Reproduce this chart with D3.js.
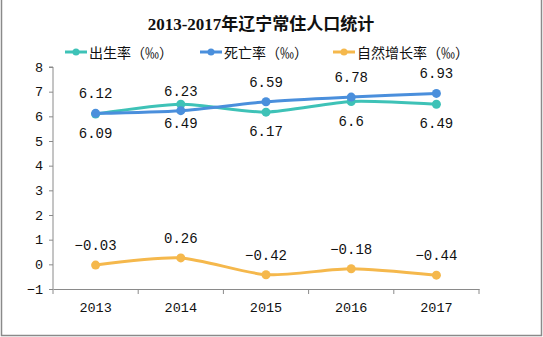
<!DOCTYPE html>
<html>
<head>
<meta charset="utf-8">
<script src="https://cdn.jsdelivr.net/npm/d3@7"></script>
<style>
  html, body { margin: 0; padding: 0; background: #fff; }
  svg { display: block; }
</style>
</head>
<body>
<svg id="chart" width="543" height="337"></svg>
<script>
// 2013-2017 Liaoning resident population: birth, death and natural growth rates (‰)
const years = ["2013", "2014", "2015", "2016", "2017"];
const birthRate = [6.09, 6.49, 6.17, 6.6, 6.49];
const deathRate = [6.12, 6.23, 6.59, 6.78, 6.93];
const naturalRate = [-0.03, 0.26, -0.42, -0.18, -0.44];
const yTicks = [-1, 0, 1, 2, 3, 4, 5, 6, 7, 8];
const seriesNames = ["出生率（‰）", "死亡率（‰）", "自然增长率（‰）"];
const colors = ["#3ec2b7", "#4a8fdc", "#f5b84c"];

const svg = d3.select("#chart");
const W = 543, H = 337;
const plotLeft = 53, plotRight = 479, plotTop = 67, plotBottom = 289;
const numFont = "'Liberation Mono', 'DejaVu Sans Mono', monospace";
const cjkFont = "'Noto Sans CJK SC', sans-serif";

// outer frame
svg.append("path")
  .attr("d", `M1.5,0 V${H - 1.5} H${W - 1.5} V0`)
  .attr("fill", "none").attr("stroke", "#8a8a8a").attr("stroke-width", 1.5);

const x = d3.scaleBand().domain(years).range([plotLeft, plotRight]);
const y = d3.scaleLinear().domain([-1, 8]).range([plotBottom, plotTop]);

// title
svg.append("text")
  .attr("x", 261).attr("y", 30)
  .attr("text-anchor", "middle")
  .attr("font-family", "'Liberation Serif', 'Noto Sans CJK SC', serif")
  .attr("font-weight", "bold").attr("font-size", 17).attr("fill", "#111")
  .text("2013-2017年辽宁常住人口统计");

// legend
const legendX = [65, 200, 333];
seriesNames.forEach((name, i) => {
  const g = svg.append("g").attr("transform", `translate(${legendX[i]},52)`);
  g.append("line").attr("x1", 0).attr("x2", 22).attr("y1", 0).attr("y2", 0)
    .attr("stroke", colors[i]).attr("stroke-width", 3);
  g.append("circle").attr("cx", 11).attr("cy", 0).attr("r", 3.5).attr("fill", colors[i]);
  g.append("text").attr("x", 24).attr("y", 5.5)
    .attr("font-family", cjkFont).attr("font-size", 14).attr("fill", "#111")
    .text(name);
});

// axes
const axisColor = "#8a8a8a";
const yAxis = svg.append("g").attr("transform", `translate(${plotLeft},0)`)
  .call(d3.axisLeft(y).tickValues(yTicks).tickSize(4).tickPadding(6).tickFormat(d3.format("d")));
const xAxis = svg.append("g").attr("transform", `translate(0,${plotBottom})`)
  .call(d3.axisBottom(x).tickSize(0).tickPadding(13));
[yAxis, xAxis].forEach(a => {
  a.select(".domain").attr("stroke", axisColor);
  a.selectAll(".tick line").attr("stroke", axisColor);
  a.selectAll("text").attr("font-family", numFont).attr("font-size", 13.5).attr("fill", "#111");
});
yAxis.select(".domain").attr("d", `M-4,${plotTop}H0V${plotBottom}`);
// category boundary ticks along the bottom axis
xAxis.selectAll(".bound").data(d3.range(years.length + 1)).enter().append("line")
  .attr("x1", i => plotLeft + i * x.bandwidth()).attr("x2", i => plotLeft + i * x.bandwidth())
  .attr("y1", 0).attr("y2", 5).attr("stroke", axisColor);

const cx = d => x(d) + x.bandwidth() / 2;
const line = d3.line().x(d => cx(d[0])).y(d => y(d[1])).curve(d3.curveCardinal.tension(0.3));

const series = [
  { values: birthRate, color: colors[0], dy: 24 },
  { values: deathRate, color: colors[1], dy: -15 },
  { values: naturalRate, color: colors[2], dy: -15 }
];

series.forEach(s => {
  const pts = years.map((yr, i) => [yr, s.values[i]]);
  svg.append("path").datum(pts).attr("d", line)
    .attr("fill", "none").attr("stroke", s.color).attr("stroke-width", 3)
    .attr("stroke-linecap", "round");
  svg.append("g").selectAll("circle").data(pts).enter().append("circle")
    .attr("cx", d => cx(d[0])).attr("cy", d => y(d[1])).attr("r", 4.5)
    .attr("fill", s.color);
});

// value labels
series.forEach(s => {
  svg.append("g").selectAll("text").data(years.map((yr, i) => [yr, s.values[i]])).enter()
    .append("text")
    .attr("x", d => cx(d[0])).attr("y", d => y(d[1]) + s.dy)
    .attr("text-anchor", "middle")
    .attr("font-family", numFont).attr("font-size", 14).attr("fill", "#111")
    .text(d => d3.format("")(d[1]).replace("-", "−"));
});
</script>
</body>
</html>
